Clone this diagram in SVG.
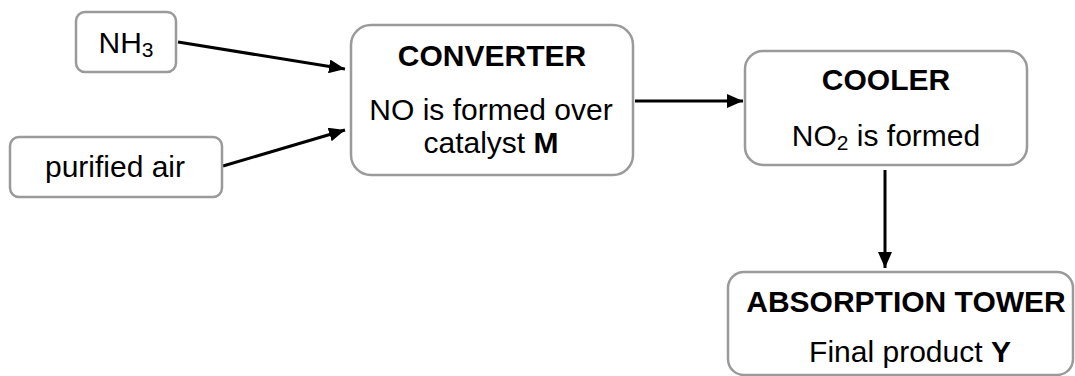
<svg xmlns="http://www.w3.org/2000/svg" width="1075" height="376" viewBox="0 0 1075 376">
<style>
.box{fill:#fff;stroke:#9a9a9a;stroke-width:2.5}
.t{font-family:"Liberation Sans",Arial,sans-serif;font-size:30px;fill:#000;text-anchor:middle}
.b{font-weight:bold}
.s{font-size:21px}
.c{stroke:#000;stroke-width:3;fill:none}
</style>
<defs>
<marker id="ah" markerUnits="userSpaceOnUse" markerWidth="16" markerHeight="14" refX="16" refY="7" orient="auto">
<path d="M0,0 L16,7 L0,14 Z" fill="#000"/>
</marker>
</defs>
<rect width="1075" height="376" fill="#fff"/>
<g id="connectors">
<line class="c" x1="178" y1="42" x2="345" y2="69" marker-end="url(#ah)"/>
<line class="c" x1="223" y1="166" x2="345" y2="130" marker-end="url(#ah)"/>
<line class="c" x1="635" y1="101" x2="743" y2="101" marker-end="url(#ah)"/>
<line class="c" x1="885" y1="170" x2="885" y2="268" marker-end="url(#ah)"/>
</g>
<g id="nh3">
<rect class="box" x="76" y="12" width="100" height="60" rx="9"/>
<text class="t" x="126" y="53">NH<tspan class="s" dy="4">3</tspan></text>
</g>
<g id="air">
<rect class="box" x="10" y="137" width="212" height="60" rx="9"/>
<text class="t" x="115" y="177">purified air</text>
</g>
<g id="converter">
<rect class="box" x="351" y="25" width="282" height="150" rx="20"/>
<text class="t b" x="492" y="66">CONVERTER</text>
<text class="t" x="491" y="120">NO is formed over</text>
<text class="t" x="491" y="153">catalyst <tspan class="b">M</tspan></text>
</g>
<g id="cooler">
<rect class="box" x="745" y="51" width="282" height="114" rx="18"/>
<text class="t b" x="886" y="90">COOLER</text>
<text class="t" x="886" y="146">NO<tspan class="s" dy="4">2</tspan><tspan dy="-4"> is formed</tspan></text>
</g>
<g id="absorption">
<rect class="box" x="728" y="272" width="345" height="103" rx="16"/>
<text class="t b" x="906" y="312">ABSORPTION TOWER</text>
<text class="t" x="910" y="362">Final product <tspan class="b">Y</tspan></text>
</g>
</svg>
